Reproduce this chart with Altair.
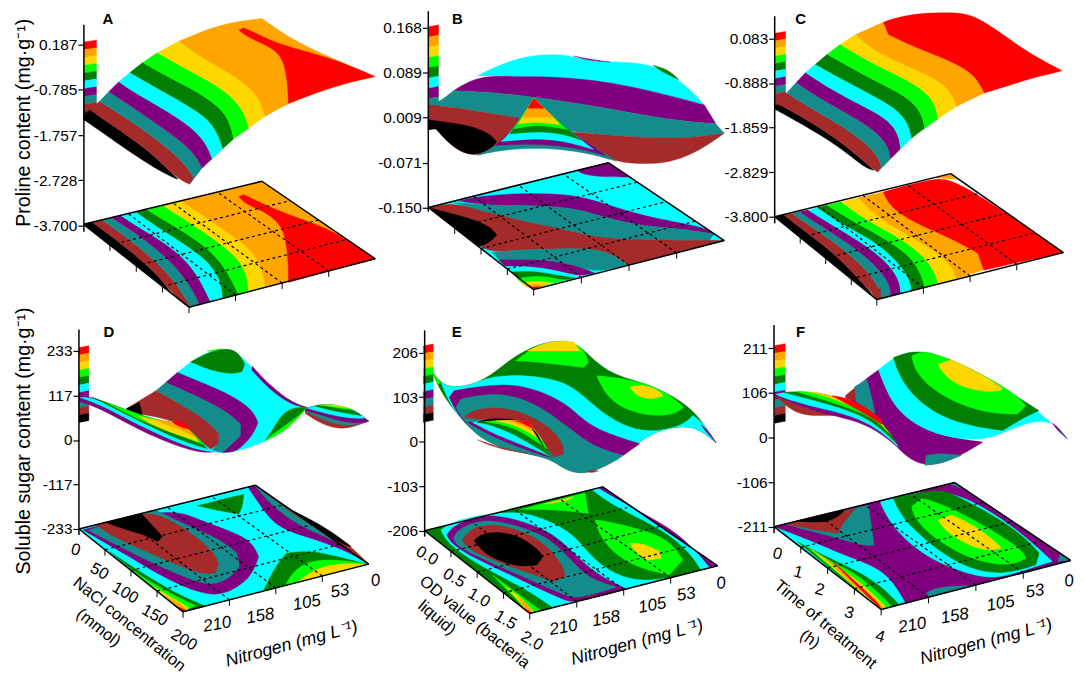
import math
import altair as alt
import pandas as pd

BK, BR, TL, PU, CY, GN, LM, GD, OR, RD = ("#000000", "#a52a2a", "#148c8c", "#800080", "#00ffff",
                                          "#007f00", "#00ff00", "#ffd700", "#ffa500", "#ff0000")
KEY_COLORS = [RD, OR, GD, LM, GN, CY, PU, TL, BR, BK]
FONT = "Liberation Sans"

# all shapes below are read off the picture, in units of 1/3 px from each panel's crop origin
# y ticks: (values, crop y of first tick, crop y of last tick, format)
TICKS_A = ([0.187, -0.785, -1.757, -2.728, -3.700], 125, 672, ".3f")
TICKS_B = ([0.168, 0.089, 0.009, -0.071, -0.150], 75, 617, ".3f")
TICKS_C = ([0.083, -0.888, -1.859, -2.829, -3.800], 107, 645, ".3f")
TICKS_D = ([233, 117, 0, -117, -233], 150, 687, "d")
TICKS_E = ([206, 103, 0, -103, -206], 155, 692, "d")
TICKS_F = ([211, 106, 0, -106, -211], 142, 680, "d")

# axis line: x, top, bottom
AXIS_A, AXIS_B, AXIS_C = (253, 66, 690), (152, 25, 630), (147, 40, 665)
AXIS_D, AXIS_E, AXIS_F = (238, 85, 705), (141, 88, 710), (145, 72, 700)

# colour key: x0, x1, top, band height
KEY_A, KEY_B, KEY_C = (252, 291, 118, 23.5), (152, 183, 72, 31), (147, 180, 92, 22.8)
KEY_D, KEY_E, KEY_F = (238, 268, 140, 22.6), (137, 167, 135, 23), (147, 179, 134, 23.4)

# floor corners: left, back, right, front
FLOOR_A = [(252, 668), (790, 538), (1132, 772), (570, 918)]
FLOOR_B = [(152, 617), (695, 482), (1045, 717), (470, 865)]
FLOOR_C = [(147, 645), (678, 515), (1018, 753), (455, 895)]
FLOOR_D = [(238, 687), (770, 555), (1112, 793), (552, 937)]
FLOOR_E = [(141, 692), (678, 560), (1025, 798), (458, 942)]
FLOOR_F = [(145, 680), (690, 547), (1040, 782), (468, 930)]

STRIPE_COLORS = [BK, BR, TL, PU, CY, GN, LM, GD]

# stripes: edge curve followed by the contour at the far side of each colour
A_TOP_CUTS = [
    [(252, 352), (350, 420), (430, 475), (500, 517), (535, 532)],
    [(252, 338), (270, 322), (340, 370), (420, 425), (480, 475), (535, 530)],
    [(300, 297), (370, 340), (450, 395), (520, 450), (560, 490), (585, 528), (572, 547)],
    [(328, 268), (400, 315), (480, 370), (550, 420), (590, 460), (610, 498)],
    [(358, 238), (430, 285), (520, 335), (590, 385), (625, 430), (640, 470)],
    [(392, 210), (470, 255), (560, 305), (630, 350), (660, 400), (672, 440)],
    [(430, 180), (510, 225), (600, 270), (670, 320), (695, 365), (705, 410)],
    [(475, 150), (545, 190), (630, 235), (700, 280), (740, 335), (750, 378)],
    [(540, 115), (600, 160), (680, 205), (750, 250), (785, 295), (800, 342)],
]
A_TOP = [
    (OR, [(540, 115), (600, 90), (660, 68), (720, 55), (790, 47), (850, 90), (920, 130), (1010, 170), (1132, 222),
          (1050, 240), (960, 268), (870, 303), (800, 342), (785, 295), (750, 250), (680, 205), (600, 160)]),
    (RD, [(720, 82), (735, 75), (780, 95), (830, 120), (900, 140), (1010, 170), (1132, 222), (1050, 240), (960, 268),
          (870, 303), (868, 250), (860, 190), (840, 150), (800, 125), (750, 105)]),
]
A_FLOOR_CUTS = [
    [(252, 668), (340, 737), (430, 808), (520, 879)],
    [(278, 662), (345, 710), (420, 770), (480, 825), (520, 879)],
    [(308, 655), (380, 705), (460, 770), (525, 835), (565, 900), (572, 917)],
    [(337, 648), (410, 695), (495, 760), (555, 825), (595, 890), (600, 910)],
    [(365, 642), (440, 690), (530, 745), (590, 810), (625, 880), (635, 901)],
    [(410, 630), (480, 680), (570, 735), (640, 790), (670, 850), (672, 892)],
    [(440, 622), (520, 670), (610, 725), (670, 785), (700, 840), (720, 880)],
    [(490, 610), (570, 660), (650, 715), (720, 770), (745, 820), (750, 870)],
    [(545, 597), (610, 640), (690, 695), (760, 745), (790, 800), (800, 855)],
]
A_FLOOR = [
    (BR, [(520, 879), (570, 918), (572, 917), (565, 900)]),
    (OR, [(545, 597), (790, 538), (1010, 688), (1132, 772), (800, 855), (790, 800), (760, 745), (690, 695), (610, 640)]),
    (RD, [(720, 585), (735, 578), (780, 600), (835, 625), (900, 650), (1010, 688), (1132, 772), (870, 843),
          (870, 780), (860, 700), (840, 660), (790, 625), (745, 610)]),
]

C_TOP_CUTS = [
    [(147, 320), (300, 405), (380, 465), (420, 497), (445, 505)],
    [(147, 305), (160, 305), (240, 350), (320, 400), (390, 455), (445, 503)],
    [(183, 272), (260, 320), (340, 365), (420, 420), (460, 465), (470, 495), (458, 510)],
    [(212, 240), (285, 290), (370, 335), (450, 385), (490, 430), (497, 470)],
    [(240, 210), (320, 262), (400, 305), (480, 345), (520, 390), (527, 440)],
    [(270, 185), (350, 230), (430, 272), (510, 315), (550, 360), (560, 408)],
    [(305, 155), (385, 200), (470, 245), (550, 285), (590, 330), (600, 378)],
    [(345, 125), (420, 170), (500, 210), (590, 255), (630, 300), (640, 350)],
    [(392, 95), (440, 140), (530, 185), (640, 230), (680, 270), (695, 312)],
]
C_TOP = [
    (BR, [(147, 290), (180, 272), (200, 290), (160, 305), (147, 308)]),
    (OR, [(392, 95), (475, 58), (490, 95), (560, 130), (680, 175), (750, 215), (780, 272), (695, 312), (680, 270),
          (640, 230), (530, 185), (440, 140)]),
    (RD, [(475, 58), (530, 40), (600, 30), (700, 28), (750, 40), (800, 70), (870, 120), (930, 160), (1015, 205),
          (950, 220), (880, 240), (780, 272), (750, 215), (680, 175), (560, 130), (490, 95)]),
]
C_FLOOR_CUTS = [
    [(147, 645), (250, 727), (350, 807), (440, 883)],
    [(175, 640), (240, 690), (320, 750), (390, 820), (440, 878)],
    [(200, 635), (265, 680), (345, 735), (420, 800), (465, 860), (468, 893)],
    [(222, 630), (290, 675), (370, 725), (445, 785), (495, 845), (497, 885)],
    [(248, 625), (320, 670), (405, 720), (480, 775), (525, 835), (527, 877)],
    [(275, 617), (345, 665), (435, 710), (510, 770), (555, 830), (560, 868)],
    [(305, 610), (375, 655), (470, 705), (555, 760), (590, 820), (600, 858)],
    [(348, 600), (415, 650), (510, 700), (590, 755), (630, 810), (640, 847)],
    [(400, 588), (450, 640), (530, 690), (625, 745), (680, 790), (695, 832)],
]
C_FLOOR = [
    (BR, [(440, 878), (455, 895), (468, 893), (465, 860)]),
    (OR, [(400, 588), (475, 570), (490, 610), (560, 660), (680, 710), (760, 755), (778, 806), (695, 832), (680, 790),
          (625, 745), (530, 690), (450, 640)]),
    (RD, [(475, 570), (630, 528), (695, 530), (1018, 753), (778, 806), (760, 755), (680, 710), (560, 660), (490, 610)]),
    (OR, [(630, 528), (678, 515), (700, 532)]),
]

B_TOP = [
    (CY, [(300, 220), (370, 185), (450, 160), (520, 155), (570, 158), (620, 170), (680, 178), (750, 178), (830, 187),
          (900, 225), (950, 270), (985, 308), (920, 290), (800, 260), (700, 240), (600, 228), (500, 222), (400, 222)]),
    (PU, [(300, 220), (400, 222), (500, 222), (600, 228), (700, 240), (800, 260), (920, 290), (985, 308), (1020, 365),
          (900, 355), (780, 335), (650, 310), (480, 285), (350, 270), (228, 265)]),
    (TL, [(183, 300), (228, 265), (350, 270), (480, 285), (650, 310), (780, 335), (900, 355), (1020, 365), (1045, 393),
          (1000, 400), (900, 410), (780, 405), (650, 395), (575, 388), (470, 360), (430, 348), (350, 335), (250, 318),
          (155, 308)]),
    (BR, [(152, 320), (155, 308), (250, 318), (350, 335), (430, 348), (385, 405), (340, 450), (300, 460), (260, 455),
          (215, 425), (175, 380), (152, 380)]),
    (BK, [(152, 352), (200, 360), (280, 370), (340, 395), (358, 420), (340, 440), (300, 458), (260, 455), (215, 425),
          (175, 380), (152, 382)]),
    (BR, [(575, 388), (650, 395), (780, 405), (900, 410), (1000, 400), (1045, 393), (1000, 425), (950, 455), (880, 482),
          (800, 486), (740, 482), (700, 470), (640, 435)]),
    (TL, [(470, 288), (410, 380), (360, 432), (300, 460), (380, 442), (480, 438), (560, 442), (640, 455), (720, 478),
          (650, 432), (590, 395), (530, 345)]),
    (PU, [(470, 288), (410, 380), (355, 430), (480, 424), (600, 436), (690, 462), (650, 432), (590, 395), (530, 345)]),
    (CY, [(470, 288), (410, 380), (372, 418), (480, 408), (560, 416), (650, 442), (590, 395), (530, 345)]),
    (GN, [(470, 288), (410, 380), (397, 395), (470, 388), (550, 392), (612, 414), (590, 395), (530, 345)]),
    (LM, [(470, 288), (410, 380), (470, 368), (530, 374), (572, 382), (530, 345)]),
    (GD, [(470, 288), (423, 365), (480, 358), (550, 368), (530, 345)]),
    (OR, [(470, 288), (436, 345), (530, 345)]),
    (RD, [(470, 288), (452, 318), (502, 318)]),
    (PU, [(590, 160), (640, 170), (700, 178), (640, 175)]),
    (GN, [(830, 188), (875, 200), (908, 232), (860, 210)]),
]
B_FLOOR = [
    (CY, FLOOR_B),
    (PU, [(600, 505), (695, 482), (760, 525), (680, 525), (620, 518)]),
    (PU, [(290, 586), (400, 575), (530, 575), (620, 585), (720, 618), (830, 650), (985, 676), (1015, 697), (900, 680),
          (780, 672), (660, 640), (590, 618), (450, 610), (350, 612), (245, 598)]),
    (TL, [(230, 602), (350, 612), (450, 610), (590, 618), (660, 640), (780, 672), (900, 680), (1015, 697), (1000, 716),
          (860, 716), (720, 712), (640, 705), (550, 680), (440, 660), (370, 640), (300, 625)]),
    (BR, [(152, 617), (230, 602), (300, 625), (370, 640), (440, 660), (550, 680), (640, 705), (720, 712), (860, 716),
          (1000, 716), (1045, 717), (755, 790), (700, 755), (640, 740), (520, 742), (430, 745), (345, 752), (305, 735)]),
    (BK, [(152, 617), (200, 630), (280, 650), (340, 675), (358, 700), (340, 722), (305, 735)]),
    (TL, [(345, 752), (430, 745), (520, 742), (640, 740), (700, 755), (755, 790), (655, 815), (590, 790), (500, 775),
          (410, 775), (365, 775)]),
    (PU, [(365, 775), (410, 775), (500, 775), (590, 790), (655, 815), (610, 825), (540, 808), (470, 795), (385, 795)]),
    (CY, [(385, 795), (470, 795), (540, 808), (610, 825), (585, 832), (530, 820), (470, 808), (405, 815)]),
    (GN, [(405, 812), (470, 808), (530, 820), (595, 830), (560, 838), (510, 825), (460, 825), (425, 835)]),
    (LM, [(420, 832), (460, 825), (510, 825), (560, 838), (530, 846), (490, 838), (435, 845)]),
    (GD, [(432, 845), (480, 838), (530, 846), (490, 855), (450, 858)]),
    (OR, [(445, 852), (485, 848), (505, 852), (470, 865)]),
    (RD, [(458, 858), (490, 856), (470, 865)]),
]

D_TOP = [
    (CY, [(500, 245), (535, 215), (575, 182), (630, 150), (690, 142), (735, 170), (780, 225), (830, 270), (880, 305),
          (925, 320), (880, 350), (830, 410), (770, 435), (700, 458), (650, 458), (610, 440)]),
    (PU, [(760, 195), (810, 250), (880, 306), (925, 320), (880, 314), (810, 264), (760, 208)]),
    (GN, [(575, 183), (640, 148), (690, 142), (720, 155), (738, 190), (730, 212), (700, 220), (640, 210)]),
    (LM, [(625, 150), (670, 143), (640, 152)]),
    (PU, [(535, 215), (620, 250), (700, 285), (760, 325), (778, 365), (765, 400), (725, 445), (700, 456), (670, 456),
          (690, 440), (725, 405), (725, 370), (680, 330), (590, 285), (500, 245)]),
    (TL, [(500, 245), (590, 285), (680, 330), (725, 370), (725, 405), (690, 440), (670, 456), (640, 450), (660, 425),
          (660, 400), (630, 365), (560, 320), (470, 270)]),
    (BR, [(470, 270), (560, 320), (630, 365), (660, 400), (658, 430), (635, 447), (600, 420), (560, 375), (480, 350),
          (420, 340), (380, 325), (420, 300)]),
    (BK, [(380, 325), (420, 305), (430, 345), (415, 345)]),
    (PU, [(238, 285), (275, 288), (380, 328), (480, 362), (530, 365), (570, 385), (610, 430), (645, 455), (600, 458),
          (500, 425), (400, 378), (300, 322), (238, 302)]),
    (CY, [(240, 290), (275, 290), (380, 328), (480, 362), (530, 365), (570, 385), (615, 435), (650, 455), (590, 448),
          (500, 412), (400, 365), (310, 315)]),
    (GN, [(275, 288), (380, 328), (480, 362), (530, 365), (570, 385), (625, 445), (560, 425), (490, 395), (400, 352),
          (330, 315)]),
    (LM, [(320, 305), (380, 328), (480, 362), (530, 365), (570, 385), (615, 432), (540, 405), (470, 378), (400, 348)]),
    (GD, [(420, 347), (480, 362), (530, 365), (570, 385), (600, 425), (560, 410), (500, 390), (450, 368)]),
    (OR, [(470, 358), (530, 365), (570, 385), (590, 410), (540, 385), (500, 372)]),
    (RD, [(520, 365), (550, 362), (572, 385), (565, 385), (540, 378)]),
    (GN, [(925, 320), (885, 320), (850, 340), (825, 385), (800, 420), (850, 395), (890, 360)]),
    (LM, [(800, 420), (830, 395), (880, 362), (925, 325), (890, 362), (850, 398)]),
    (BR, [(925, 322), (975, 310), (1030, 315), (1080, 335), (1112, 362), (1060, 382), (1010, 385), (960, 365), (920, 338)]),
    (TL, [(925, 322), (975, 310), (1030, 315), (1080, 335), (1112, 362), (1070, 375), (1010, 372), (960, 350), (920, 332)]),
    (PU, [(925, 322), (975, 310), (1030, 315), (1080, 335), (1112, 362), (1075, 370), (1020, 360), (960, 340), (920, 330)]),
    (CY, [(925, 322), (975, 310), (1030, 315), (1080, 335), (1100, 352), (1085, 355), (1020, 348), (970, 335)]),
    (GN, [(950, 316), (975, 310), (1030, 315), (1080, 335), (1090, 345), (1040, 337), (980, 325)]),
    (LM, [(975, 312), (1030, 315), (1065, 328), (1010, 322)]),
    (GD, [(965, 313), (1010, 311), (1055, 323), (1010, 316)]),
]
D_FLOOR = [
    (CY, FLOOR_D),
    (GN, [(595, 617), (735, 582), (732, 620), (720, 642), (660, 632)]),
    (PU, [(515, 620), (600, 660), (700, 695), (760, 725), (780, 770), (760, 830), (700, 875), (640, 890), (560, 865),
          (470, 820), (390, 770), (250, 690)]),
    (TL, [(470, 630), (560, 675), (660, 715), (715, 760), (722, 800), (690, 840), (630, 860), (550, 830), (440, 780),
          (340, 730), (265, 690)]),
    (BR, [(290, 675), (430, 640), (470, 640), (560, 685), (640, 750), (660, 790), (650, 820), (610, 825), (520, 790),
          (430, 750), (340, 710)]),
    (BK, [(318, 667), (428, 642), (490, 710), (475, 725), (440, 705), (380, 690)]),
    (PU, [(748, 560), (770, 555), (1112, 793), (1040, 750), (930, 712), (840, 685), (790, 625)]),
    (TL, [(770, 558), (1112, 793), (1040, 735), (940, 695), (860, 650), (805, 600)]),
    (BR, [(800, 578), (1112, 793), (1040, 720), (950, 680), (880, 640), (840, 605)]),
    (BK, [(880, 630), (1030, 735), (1060, 740), (980, 680)]),
    (GN, [(330, 755), (420, 815), (510, 870), (590, 908), (622, 920), (552, 937)]),
    (LM, [(390, 805), (450, 845), (520, 885), (590, 918), (552, 937)]),
    (GD, [(460, 860), (520, 895), (570, 925), (552, 937)]),
    (OR, [(500, 890), (550, 915), (560, 933), (552, 937)]),
    (RD, [(530, 920), (558, 930), (552, 937)]),
    (GN, [(795, 873), (830, 800), (865, 760), (930, 752), (1010, 768), (1105, 793)]),
    (LM, [(860, 858), (880, 820), (930, 780), (1030, 780), (1105, 793)]),
    (GD, [(895, 850), (950, 805), (1030, 790), (1105, 793)]),
]

E_TOP = [
    (GN, [(165, 215), (190, 245), (215, 260), (280, 255), (340, 225), (400, 175), (450, 145), (520, 118), (590, 122),
          (625, 150), (665, 190), (720, 225), (800, 245), (880, 280), (940, 320), (980, 365), (1020, 427), (970, 385),
          (920, 375), (840, 390), (780, 430), (720, 480), (650, 515), (600, 520), (560, 505), (520, 475), (450, 460),
          (380, 445), (310, 415), (245, 350), (190, 275)]),
    (LM, [(415, 180), (460, 145), (520, 118), (590, 122), (625, 150), (635, 185), (620, 200), (520, 188), (440, 180)]),
    (GD, [(450, 150), (520, 118), (590, 122), (610, 150), (540, 150)]),
    (LM, [(660, 225), (720, 230), (800, 245), (880, 280), (922, 320), (890, 345), (800, 345), (720, 315), (680, 270)]),
    (GD, [(760, 260), (800, 250), (850, 270), (860, 285), (820, 298), (780, 285)]),
    (LM, [(165, 215), (190, 245), (180, 250)]),
    (CY, [(190, 245), (215, 260), (280, 255), (340, 225), (450, 222), (560, 240), (620, 285), (680, 340), (760, 385),
          (840, 395), (920, 375), (950, 345), (980, 365), (1020, 427), (970, 385), (920, 375), (840, 390), (780, 430),
          (720, 480), (640, 440), (500, 420), (300, 400), (245, 350), (215, 305)]),
    (PU, [(975, 372), (1000, 395), (1020, 427), (985, 388)]),
    (PU, [(215, 290), (230, 270), (300, 258), (400, 248), (490, 270), (570, 310), (620, 360), (680, 395), (790, 430),
          (740, 465), (650, 440), (580, 385), (510, 400), (420, 440), (310, 415), (245, 350)]),
    (TL, [(235, 320), (250, 295), (330, 278), (420, 285), (510, 330), (580, 385), (650, 440), (740, 465), (720, 480),
          (650, 515), (600, 520), (560, 505), (520, 475), (450, 460), (380, 445), (310, 415), (262, 365)]),
    (BR, [(260, 350), (290, 325), (370, 318), (450, 340), (520, 380), (560, 430), (560, 460), (530, 470), (500, 430),
          (480, 400), (460, 370), (410, 357), (320, 360)]),
    (BR, [(300, 418), (380, 445), (450, 458), (380, 449), (320, 428)]),
    (BR, [(628, 514), (650, 508), (665, 512), (645, 518)]),
    (PU, [(285, 365), (320, 360), (410, 357), (460, 370), (490, 410), (525, 470), (510, 470), (400, 432), (320, 395), (270, 365)]),
    (CY, [(285, 365), (320, 360), (410, 357), (460, 370), (490, 410), (525, 470), (515, 465), (400, 420), (340, 395), (290, 368)]),
    (GN, [(300, 365), (320, 360), (410, 357), (460, 370), (490, 410), (525, 470), (420, 405), (350, 375)]),
    (LM, [(315, 362), (410, 357), (460, 370), (490, 410), (510, 445), (430, 390), (370, 370)]),
    (GD, [(345, 360), (410, 357), (460, 370), (490, 410), (495, 420), (430, 380), (380, 365)]),
    (OR, [(395, 362), (410, 357), (460, 370), (475, 395), (430, 372)]),
    (RD, [(410, 360), (455, 365), (470, 385), (430, 365)]),
    (BK, [(300, 365), (340, 352), (410, 357), (350, 358)]),
    (BK, [(465, 385), (480, 395), (500, 440), (488, 420)]),
]
E_FLOOR = [
    (GN, FLOOR_E),
    (LM, [(430, 628), (625, 578), (635, 640), (530, 628)]),
    (GD, [(500, 612), (590, 590), (565, 605)]),
    (CY, [(645, 568), (678, 560), (1025, 798), (975, 811), (950, 770), (890, 710), (800, 660), (700, 610)]),
    (PU, [(665, 563), (678, 560), (1025, 798), (1000, 802), (975, 770), (900, 695), (800, 640), (720, 595)]),
    (LM, [(655, 660), (700, 665), (800, 690), (880, 720), (920, 780), (880, 825), (800, 810), (720, 770), (670, 710)]),
    (GD, [(760, 730), (800, 730), (850, 755), (855, 775), (810, 782), (770, 750)]),
    (CY, [(190, 690), (240, 655), (420, 628), (510, 660), (590, 700), (640, 770), (720, 830), (810, 845), (870, 835),
          (600, 905), (530, 925), (450, 870), (370, 830), (280, 780), (210, 730)]),
    (PU, [(208, 705), (225, 680), (290, 650), (360, 645), (440, 665), (530, 700), (590, 760), (660, 825), (750, 868),
          (590, 912), (560, 900), (470, 860), (380, 815), (280, 770), (220, 730)]),
    (TL, [(228, 715), (240, 690), (290, 665), (350, 660), (430, 680), (510, 710), (575, 770), (630, 835), (720, 862),
          (600, 900), (560, 885), (480, 850), (400, 815), (300, 770), (240, 740)]),
    (BR, [(255, 720), (275, 690), (320, 675), (370, 675), (440, 695), (510, 735), (560, 800), (565, 830), (530, 845),
          (470, 825), (400, 800), (320, 770), (270, 745)]),
    (BK, [(290, 722), (310, 702), (360, 695), (420, 705), (480, 745), (498, 770), (480, 795), (430, 802), (370, 785), (320, 760)]),
    (BR, [(625, 893), (660, 885), (640, 893)]),
    (LM, [(345, 825), (420, 880), (490, 932), (458, 942)]),
    (GD, [(385, 860), (445, 905), (470, 938), (458, 942)]),
    (OR, [(420, 890), (460, 920), (465, 940), (458, 942)]),
    (RD, [(440, 925), (462, 938), (458, 942)]),
]

F_TOP = [
    (BR, [(145, 280), (190, 325), (235, 345), (300, 345), (340, 345), (260, 330), (190, 305)]),
    (PU, [(360, 290), (420, 235), (460, 207), (500, 310), (560, 365), (640, 405), (775, 425), (710, 465), (650, 490),
          (600, 495), (560, 480), (520, 445), (480, 400), (455, 340)]),
    (CY, [(460, 207), (505, 170), (560, 150), (620, 155), (700, 185), (800, 235), (880, 290), (950, 340), (985, 370),
          (975, 365), (930, 360), (860, 385), (775, 425), (640, 405), (560, 365), (500, 310)]),
    (GN, [(505, 170), (560, 150), (620, 155), (700, 185), (800, 235), (880, 290), (945, 330), (900, 350), (835, 390),
          (700, 370), (600, 320), (530, 245)]),
    (LM, [(560, 165), (590, 152), (620, 155), (700, 185), (800, 235), (880, 285), (905, 315), (880, 340), (800, 340),
          (700, 310), (620, 265), (570, 210)]),
    (GD, [(640, 190), (680, 177), (710, 190), (780, 225), (830, 260), (832, 268), (790, 275), (710, 260), (660, 225)]),
    (PU, [(985, 368), (1000, 378), (1030, 415), (1000, 390)]),
    (TL, [(1005, 385), (1030, 415), (1015, 402)]),
    (TL, [(605, 465), (640, 458), (710, 465), (650, 490), (600, 495)]),
    (TL, [(388, 258), (425, 235), (445, 310), (450, 340), (420, 325), (390, 300)]),
    (BR, [(360, 285), (388, 262), (390, 300), (365, 295)]),
    (PU, [(175, 275), (240, 272), (320, 285), (380, 310), (440, 335), (470, 370), (510, 420), (540, 460), (530, 450),
          (470, 400), (400, 362), (300, 340), (200, 310), (145, 280)]),
    (CY, [(175, 275), (240, 272), (320, 285), (380, 310), (440, 335), (470, 370), (510, 420), (520, 440), (460, 385),
          (380, 345), (280, 322), (180, 295), (150, 280)]),
    (GN, [(175, 275), (240, 272), (320, 285), (380, 310), (440, 335), (470, 370), (510, 420), (520, 435), (460, 375),
          (390, 335), (290, 305), (200, 282)]),
    (LM, [(210, 272), (240, 272), (320, 285), (380, 310), (440, 335), (470, 370), (500, 405), (450, 355), (380, 325), (290, 295)]),
    (GD, [(240, 272), (320, 285), (380, 310), (440, 335), (470, 370), (490, 395), (450, 350), (385, 318), (300, 285)]),
    (OR, [(270, 275), (320, 285), (380, 310), (440, 335), (470, 370), (478, 378), (430, 335), (370, 305)]),
    (RD, [(320, 285), (360, 290), (425, 320), (470, 360), (470, 372), (430, 345), (365, 310)]),
]
F_FLOOR = [
    (PU, FLOOR_F),
    (CY, [(465, 605), (645, 558), (780, 620), (900, 705), (985, 785), (905, 810), (812, 840), (720, 820), (620, 780),
          (540, 720), (490, 660)]),
    (PU, [(660, 555), (690, 547), (1040, 782), (1005, 790), (960, 745), (880, 680), (770, 610)]),
    (TL, [(675, 551), (690, 547), (730, 572)]),
    (TL, [(1000, 785), (1010, 762), (1040, 782)]),
    (GN, [(505, 595), (640, 565), (680, 580), (780, 630), (890, 700), (945, 760), (935, 795), (840, 825), (740, 810),
          (650, 760), (580, 700), (530, 650)]),
    (LM, [(560, 620), (590, 595), (650, 610), (770, 670), (890, 745), (905, 775), (860, 800), (750, 785), (640, 725), (570, 660)]),
    (GD, [(640, 660), (680, 645), (740, 670), (820, 730), (830, 745), (780, 755), (710, 725), (660, 690)]),
    (TL, [(180, 672), (430, 615), (447, 735), (420, 740), (340, 715), (240, 690)]),
    (BR, [(180, 672), (390, 625), (345, 680), (340, 700), (270, 690)]),
    (BK, [(210, 664), (360, 628), (340, 650), (300, 668), (240, 665)]),
    (TL, [(605, 880), (640, 860), (750, 858), (612, 893)]),
    (CY, [(150, 683), (250, 720), (350, 765), (450, 800), (500, 840), (540, 908), (515, 915), (468, 930), (145, 680)]),
    (GN, [(215, 725), (300, 770), (390, 810), (470, 860), (522, 915), (468, 930)]),
    (LM, [(240, 738), (310, 782), (390, 820), (450, 870), (500, 920), (468, 930)]),
    (GD, [(255, 745), (320, 795), (400, 840), (485, 925), (468, 930)]),
    (OR, [(285, 765), (350, 815), (420, 870), (478, 927), (468, 930)]),
    (RD, [(310, 775), (380, 835), (465, 915), (468, 930)]),
]

# text: label, x, y, angle
LEFT_D = [("0", 228, 750, 15), ("50", 300, 815, 30), ("100", 378, 880, 30), ("150", 467, 948, 30), ("200", 555, 1022, 30),
          ("NaCl concentration", 390, 975, 39), ("(mmol)", 297, 985, 38)]
LEFT_E = [("0.0", 148, 768, 30), ("0.5", 230, 835, 30), ("1.0", 305, 895, 30), ("1.5", 385, 962, 30), ("2.0", 465, 1025, 30),
          ("OD value (bacteria", 292, 968, 39), ("liquid)", 178, 955, 40)]
LEFT_F = [("0", 155, 762, 15), ("1", 218, 818, 15), ("2", 283, 870, 15), ("3", 372, 940, 15), ("4", 465, 1012, 15),
          ("Time of treatment", 300, 975, 40), ("(h)", 253, 1020, 35)]
NITRO_LABELS = ["210", "158", "105", "53", "0"]
NITRO_D = [(655, 975), (785, 950), (925, 910), (1025, 875), (1133, 843)]
NITRO_E = [(560, 985), (688, 958), (828, 918), (930, 885), (1035, 852)]
NITRO_F = [(562, 978), (690, 950), (828, 912), (932, 875), (1035, 845)]
NITRO_TITLE_D, NITRO_TITLE_E, NITRO_TITLE_F = (880, 1035), (782, 1030), (785, 1028)
LETTER_POS = {"A": (325, 48), "B": (240, 48), "C": (225, 48), "D": (328, 93), "E": (238, 93), "F": (225, 93)}


def stripes(cuts):
    out = []
    for color, a, b in zip(STRIPE_COLORS, cuts[:-1], cuts[1:]):
        out.append((color, a + b[::-1]))
    return out


def key_polys(key):
    x0, x1, top, h = key
    out = []
    for k, color in enumerate(KEY_COLORS):
        y0 = top + k * h
        y1 = y0 + h
        out.append((color, [(x0, y0), (x1, y0 - 6), (x1, y1 - 6), (x0, y1)]))
    return out


def with_corners(pts):
    # a vertex given three times keeps the closed b-spline on the real corner
    out = []
    n = len(pts)
    for i, p in enumerate(pts):
        a, b = pts[i - 1], pts[(i + 1) % n]
        t1 = math.atan2(p[1] - a[1], p[0] - a[0])
        t2 = math.atan2(b[1] - p[1], b[0] - p[0])
        turn = abs((t2 - t1 + math.pi) % (2 * math.pi) - math.pi)
        out += [p, p, p] if turn > math.radians(40) else [p]
    return out


def poly_table(polys):
    rows = []
    for n, (color, pts) in enumerate(polys):
        for i, (x, y) in enumerate(with_corners(pts)):
            rows.append({"id": n, "i": i, "x": x, "y": y, "c": color})
    return pd.DataFrame(rows)


def mix(p, q, t):
    return (p[0] + (q[0] - p[0]) * t, p[1] + (q[1] - p[1]) * t)


def floor_lines(floor):
    L, B, R, F = floor
    grid, edge, tick = [], [], []
    for n, t in enumerate([0.25, 0.5, 0.75]):
        grid += [{"id": n, "i": 0, "x": mix(L, F, t)[0], "y": mix(L, F, t)[1]},
                 {"id": n, "i": 1, "x": mix(B, R, t)[0], "y": mix(B, R, t)[1]}]
        grid += [{"id": n + 3, "i": 0, "x": mix(F, R, t)[0], "y": mix(F, R, t)[1]},
                 {"id": n + 3, "i": 1, "x": mix(L, B, t)[0], "y": mix(L, B, t)[1]}]
    for n, (p, q) in enumerate([(L, B), (B, R), (R, F), (F, L)]):
        edge += [{"id": n, "i": 0, "x": p[0], "y": p[1]}, {"id": n, "i": 1, "x": q[0], "y": q[1]}]
    points = [mix(L, F, t) for t in [0.25, 0.5, 0.75, 1]] + [mix(F, R, t) for t in [0.25, 0.5, 0.75]]
    for n, p in enumerate(points):
        tick += [{"id": n, "i": 0, "x": p[0], "y": p[1]}, {"id": n, "i": 1, "x": p[0], "y": p[1] + 18}]
    return pd.DataFrame(grid), pd.DataFrame(edge), pd.DataFrame(tick)


def panel(letter, origin, frame, ticks, axis, key, floor, polys, left=None, nitro=None, nitro_title=None, y_title=None):
    ox, oy = origin
    l, r, t, b = frame
    xdom = [(l - ox) * 3, (r - ox) * 3]
    ydom = [(b - oy) * 3, (t - oy) * 3]
    X = lambda f="x": alt.X(f + ":Q", scale=alt.Scale(domain=xdom, nice=False, zero=False), axis=None)
    Y = lambda f="y": alt.Y(f + ":Q", scale=alt.Scale(domain=ydom, nice=False, zero=False), axis=None)

    shapes = alt.Chart(poly_table(key_polys(key) + polys)).mark_line(
        strokeWidth=0.4, interpolate="basis-closed").encode(
        x=X(), y=Y(), order="i:Q", detail="id:N",
        fill=alt.Fill("c:N", scale=None), stroke=alt.Stroke("c:N", scale=None))

    grid, edge, tick = floor_lines(floor)
    grid_l = alt.Chart(grid).mark_line(color="black", strokeWidth=1.2, strokeDash=[3, 3]).encode(
        x=X(), y=Y(), order="i:Q", detail="id:N")
    edge_l = alt.Chart(edge).mark_line(color="black", strokeWidth=1.5).encode(x=X(), y=Y(), order="i:Q", detail="id:N")
    tick_l = alt.Chart(tick).mark_line(color="black", strokeWidth=1).encode(x=X(), y=Y(), order="i:Q", detail="id:N")
    line = alt.Chart(pd.DataFrame({"x": [axis[0]], "y": [axis[1]], "y2": [axis[2]]})).mark_rule(
        color="black", strokeWidth=1.5).encode(x=X(), y=Y(), y2="y2:Q")

    # the value axis sits on its own scale, lined up with the tick rows in the picture
    values, y1, y2, fmt = ticks
    slope = (values[-1] - values[0]) / (y2 - y1)
    vdom = [values[0] + slope * (ydom[0] - y1), values[0] + slope * (ydom[1] - y1)]
    axis_kw = dict(values=values, offset=-(axis[0] / 3 + ox - l), domain=False, grid=False, tickColor="black",
                   tickSize=6, tickWidth=1.2, labelFont=FONT, labelFontSize=15.5, labelColor="black", labelPadding=1,
                   labelExpr="replace(format(datum.value,'%s'),'\u2212','-')" % fmt)
    if y_title:
        axis_kw.update(titleFont=FONT, titleFontSize=19.8, titleFontWeight="normal", titleColor="black", titleAngle=270,
                       titleX=y_title[1], titleY=y_title[2], titleAlign="center", titleBaseline="middle")
    val = alt.Chart(pd.DataFrame({"v": values})).mark_point(opacity=0, size=1).encode(
        x=alt.value(60),
        y=alt.Y("v:Q", title=y_title[0] if y_title else None,
                scale=alt.Scale(domain=vdom, nice=False, zero=False), axis=alt.Axis(**axis_kw)))

    lx, ly = LETTER_POS[letter]
    let = alt.Chart(pd.DataFrame({"x": [lx], "y": [ly], "t": [letter]})).mark_text(
        font=FONT, fontSize=15, fontWeight="bold", color="black").encode(x=X(), y=Y(), text="t:N")

    layers = [shapes, grid_l, edge_l, tick_l, line, val, let]
    if left:
        df = pd.DataFrame(left, columns=["t", "x", "y", "a"])
        layers.append(alt.Chart(df).mark_text(font=FONT, fontSize=16.5, color="black").encode(
            x=X(), y=Y(), text="t:N", angle=alt.Angle("a:Q", scale=None)))
        rows = [{"t": s, "x": p[0], "y": p[1], "a": 350, "z": 17} for s, p in zip(NITRO_LABELS, nitro)]
        rows.append({"t": "Nitrogen (mg  L\u207b\u00b9)", "x": nitro_title[0], "y": nitro_title[1], "a": 345, "z": 18})
        layers.append(alt.Chart(pd.DataFrame(rows)).mark_text(font=FONT, fontStyle="italic", color="black").encode(
            x=X(), y=Y(), text="t:N", angle=alt.Angle("a:Q", scale=None), size=alt.Size("z:Q", scale=None)))

    return alt.layer(*layers).resolve_scale(y="independent").properties(width=r - l, height=b - t)


COLS = [(8, 354), (354, 700), (700, 1076)]
ROW1, ROW2 = (8, 300), (300, 680)

a = panel("A", (0, 0), COLS[0] + ROW1, TICKS_A, AXIS_A, KEY_A, FLOOR_A, stripes(A_FLOOR_CUTS) + A_FLOOR + stripes(A_TOP_CUTS) + A_TOP,
          y_title=("Proline content (mg\u00b7g\u207b\u00b9)", -61, 112))
b = panel("B", (380, 0), COLS[1] + ROW1, TICKS_B, AXIS_B, KEY_B, FLOOR_B, B_FLOOR + B_TOP)
c = panel("C", (730, 0), COLS[2] + ROW1, TICKS_C, AXIS_C, KEY_C, FLOOR_C, stripes(C_FLOOR_CUTS) + C_FLOOR + stripes(C_TOP_CUTS) + C_TOP)
d = panel("D", (0, 300), COLS[0] + ROW2, TICKS_D, AXIS_D, KEY_D, FLOOR_D, D_FLOOR + D_TOP, LEFT_D, NITRO_D, NITRO_TITLE_D,
          y_title=("Soluble sugar content (mg\u00b7g\u207b\u00b9)", -56, 140))
e = panel("E", (380, 300), COLS[1] + ROW2, TICKS_E, AXIS_E, KEY_E, FLOOR_E, E_FLOOR + E_TOP, LEFT_E, NITRO_E, NITRO_TITLE_E)
f = panel("F", (730, 300), COLS[2] + ROW2, TICKS_F, AXIS_F, KEY_F, FLOOR_F, F_FLOOR + F_TOP, LEFT_F, NITRO_F, NITRO_TITLE_F)

chart = alt.concat(a, b, c, d, e, f, columns=3, spacing=0, bounds="flush").properties(padding=0).configure_view(stroke=None)

chart.save("out.html", embed_options={"renderer": "svg", "actions": False})
